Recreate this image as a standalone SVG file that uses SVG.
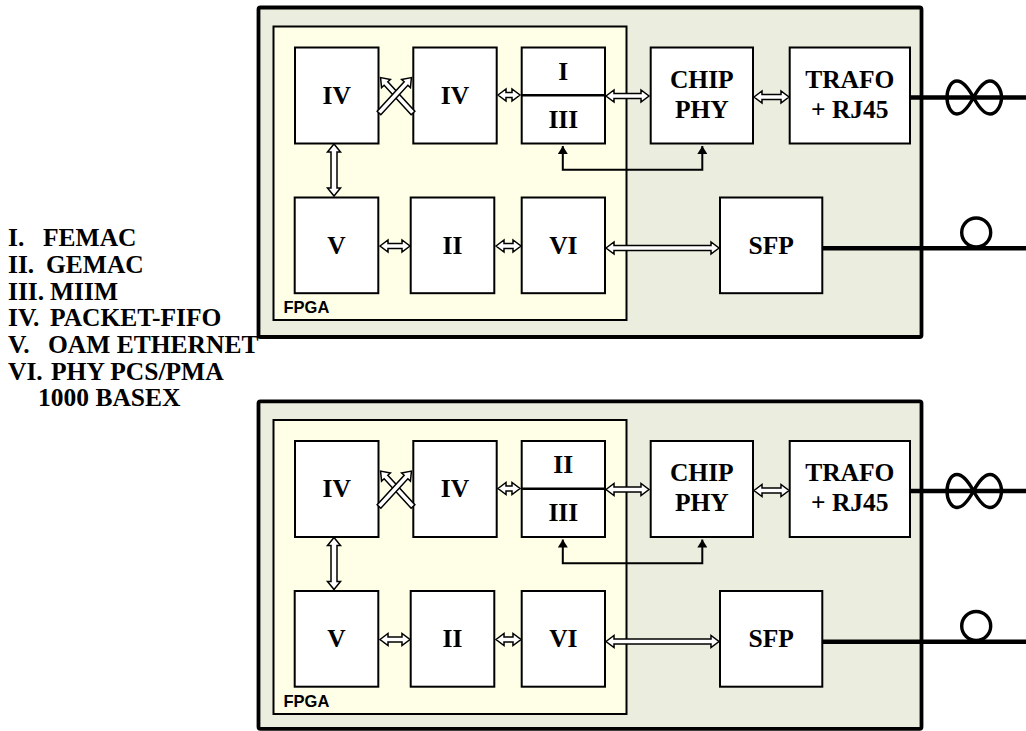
<svg xmlns="http://www.w3.org/2000/svg" width="1026" height="731" viewBox="0 0 1026 731">
<style>
.board{fill:#EBEEDE;stroke:#000;stroke-width:3.8}
.fpga{fill:#FFFFE7;stroke:#000;stroke-width:2}
.blk{fill:#fff;stroke:#000;stroke-width:2}
.div{stroke:#000;stroke-width:2.5}
.lbl{font-family:"Liberation Serif","Times New Roman",serif;font-weight:bold;font-size:25.5px;text-anchor:middle;fill:#000}
.leg{font-family:"Liberation Serif","Times New Roman",serif;font-weight:bold;font-size:25.5px;fill:#000}
.fl{font-family:"Liberation Sans",Arial,sans-serif;font-weight:bold;font-size:16.5px;fill:#000}
.ha{fill:#fff;stroke:#000;stroke-width:1.5;stroke-linejoin:miter}
.fb{fill:none;stroke:#000;stroke-width:2;marker-start:url(#tri);marker-end:url(#tri)}
.cable{stroke:#000;stroke-width:4.5;fill:none}
.sym{stroke:#000;stroke-width:3.4;fill:none}
</style>
<defs>
<marker id="tri" markerUnits="userSpaceOnUse" viewBox="0 0 8 10" refX="8" refY="5" markerWidth="8" markerHeight="10" orient="auto-start-reverse">
<path d="M0,0 L8,5 L0,10 z" fill="#000"/>
</marker>
<polygon id="diag" points="0,-2.5 40,-2.5 40,-6 48,0 40,6 40,2.5 0,2.5"/>
</defs>

<!-- Legend -->
<g id="legend" class="leg">
<text x="8" y="246">I. <tspan x="43">FEMAC</tspan></text>
<text x="8" y="273">II. <tspan x="46">GEMAC</tspan></text>
<text x="8" y="299.5">III. <tspan x="50">MIIM</tspan></text>
<text x="8" y="326">IV. <tspan x="50">PACKET-FIFO</tspan></text>
<text x="8" y="353">V. <tspan x="48">OAM ETHERNET</tspan></text>
<text x="8" y="379.5">VI. <tspan x="51">PHY PCS/PMA</tspan></text>
<text x="38" y="406">1000 BASEX</text>
</g>

<!-- Top board -->
<g id="board1">
<rect class="board" x="258.5" y="7.5" width="663" height="329.5" rx="2"/>
</g>
<g id="fpga1">
<rect class="fpga" x="273.5" y="26.5" width="353" height="293.5"/>
<text class="fl" x="283.5" y="313">FPGA</text>
</g>
<g id="t-iv1"><rect class="blk" x="295" y="47.5" width="83.5" height="96"/><text class="lbl" x="336.7" y="103.5">IV</text></g>
<g id="t-iv2"><rect class="blk" x="413.3" y="47.5" width="83.4" height="96"/><text class="lbl" x="455" y="103.5">IV</text></g>
<g id="t-i-iii"><rect class="blk" x="521.7" y="47.5" width="83.3" height="96"/><line class="div" x1="521.7" y1="95.3" x2="605" y2="95.3"/><text class="lbl" x="563.3" y="79.5">I</text><text class="lbl" x="563.3" y="127.5">III</text></g>
<g id="t-chip"><rect class="blk" x="650.7" y="47.5" width="102.3" height="96"/><text class="lbl" x="701.8" y="87.5">CHIP</text><text class="lbl" x="701.8" y="117.5">PHY</text></g>
<g id="t-trafo"><rect class="blk" x="789.7" y="47.5" width="120.3" height="96"/><text class="lbl" x="849.8" y="87.5">TRAFO</text><text class="lbl" x="849.8" y="117.5">+ RJ45</text></g>
<g id="t-v"><rect class="blk" x="294.7" y="197.5" width="83.6" height="95.7"/><text class="lbl" x="336.5" y="253.5">V</text></g>
<g id="t-ii"><rect class="blk" x="410.7" y="197.5" width="83.6" height="95.7"/><text class="lbl" x="452.5" y="253.5">II</text></g>
<g id="t-vi"><rect class="blk" x="521.7" y="197.5" width="83.3" height="95.7"/><text class="lbl" x="563.3" y="253.5">VI</text></g>
<g id="t-sfp"><rect class="blk" x="720" y="197.5" width="102.3" height="95.7"/><text class="lbl" x="771.2" y="253.5">SFP</text></g>
<g id="t-copper">
<line class="cable" x1="910" y1="97.5" x2="1026" y2="97.5"/>
<path class="sym" d="M973.5,97.5 C967,85.5 962,81 957,81 C951,81 947,89 947,97.5 C947,106 951,114 957,114 C962,114 967,109.5 973.5,97.5 C980,85.5 985,81 990,81 C996,81 1001.5,89 1001.5,97.5 C1001.5,106 996,114 990,114 C985,114 980,109.5 973.5,97.5 Z"/>
</g>
<g id="t-fiber">
<line class="cable" x1="822.3" y1="248.3" x2="1026" y2="248.3"/>
<circle class="sym" cx="976.2" cy="232.5" r="14.5"/>
</g>

<!-- Bottom board -->
<g id="board2">
<rect class="board" x="258.5" y="401.3" width="663" height="327.5" rx="2"/>
</g>
<g id="fpga2">
<rect class="fpga" x="273.5" y="420" width="353" height="294"/>
<text class="fl" x="283.5" y="707">FPGA</text>
</g>
<g transform="translate(0,393.5)">
<g id="b-iv1"><rect class="blk" x="295" y="47.5" width="83.5" height="96"/><text class="lbl" x="336.7" y="103.5">IV</text></g>
<g id="b-iv2"><rect class="blk" x="413.3" y="47.5" width="83.4" height="96"/><text class="lbl" x="455" y="103.5">IV</text></g>
<g id="b-ii-iii"><rect class="blk" x="521.7" y="47.5" width="83.3" height="96"/><line class="div" x1="521.7" y1="95.3" x2="605" y2="95.3"/><text class="lbl" x="563.3" y="79.5">II</text><text class="lbl" x="563.3" y="127.5">III</text></g>
<g id="b-chip"><rect class="blk" x="650.7" y="47.5" width="102.3" height="96"/><text class="lbl" x="701.8" y="87.5">CHIP</text><text class="lbl" x="701.8" y="117.5">PHY</text></g>
<g id="b-trafo"><rect class="blk" x="789.7" y="47.5" width="120.3" height="96"/><text class="lbl" x="849.8" y="87.5">TRAFO</text><text class="lbl" x="849.8" y="117.5">+ RJ45</text></g>
<g id="b-v"><rect class="blk" x="294.7" y="197.5" width="83.6" height="95.7"/><text class="lbl" x="336.5" y="253.5">V</text></g>
<g id="b-ii"><rect class="blk" x="410.7" y="197.5" width="83.6" height="95.7"/><text class="lbl" x="452.5" y="253.5">II</text></g>
<g id="b-vi"><rect class="blk" x="521.7" y="197.5" width="83.3" height="95.7"/><text class="lbl" x="563.3" y="253.5">VI</text></g>
<g id="b-sfp"><rect class="blk" x="720" y="197.5" width="102.3" height="95.7"/><text class="lbl" x="771.2" y="253.5">SFP</text></g>
<g id="b-copper">
<line class="cable" x1="910" y1="97.5" x2="1026" y2="97.5"/>
<path class="sym" d="M973.5,97.5 C967,85.5 962,81 957,81 C951,81 947,89 947,97.5 C947,106 951,114 957,114 C962,114 967,109.5 973.5,97.5 C980,85.5 985,81 990,81 C996,81 1001.5,89 1001.5,97.5 C1001.5,106 996,114 990,114 C985,114 980,109.5 973.5,97.5 Z"/>
</g>
<g id="b-fiber">
<line class="cable" x1="822.3" y1="248.3" x2="1026" y2="248.3"/>
<circle class="sym" cx="976.2" cy="232.5" r="14.5"/>
</g>
</g>

<!-- Connectors -->
<g id="connectors">
<g id="conn-top">
<use href="#diag" class="ha" transform="translate(413,113) rotate(-132.5)"/>
<use href="#diag" class="ha" transform="translate(379,113) rotate(-47.5)"/>
<polygon class="ha" points="498,95 506,89 506,92.5 512,92.5 512,89 520,95 512,101 512,97.5 506,97.5 506,101"/>
<polygon class="ha" points="606,96 614,90 614,93.5 641,93.5 641,90 649,96 641,102 641,98.5 614,98.5 614,102"/>
<polygon class="ha" points="754,97 762,91 762,94.5 781,94.5 781,91 789,97 781,103 781,99.5 762,99.5 762,103"/>
<polygon class="ha" points="334,144 340.5,152 337,152 337,188 340.5,188 334,196 327.5,188 331,188 331,152 327.5,152"/>
<polygon class="ha" points="380,246 388,240 388,243.5 402,243.5 402,240 410,246 402,252 402,248.5 388,248.5 388,252"/>
<polygon class="ha" points="496,246 504,240 504,243.5 513,243.5 513,240 521,246 513,252 513,248.5 504,248.5 504,252"/>
<polygon class="ha" points="606,248 614,242 614,245.5 711,245.5 711,242 719,248 711,254 711,250.5 614,250.5 614,254"/>
<path class="fb" d="M562.8,146 V169.7 H702.3 V146"/>
</g>
<g id="conn-bottom" transform="translate(0,393.5)">
<use href="#diag" class="ha" transform="translate(413,113) rotate(-132.5)"/>
<use href="#diag" class="ha" transform="translate(379,113) rotate(-47.5)"/>
<polygon class="ha" points="498,95 506,89 506,92.5 512,92.5 512,89 520,95 512,101 512,97.5 506,97.5 506,101"/>
<polygon class="ha" points="606,96 614,90 614,93.5 641,93.5 641,90 649,96 641,102 641,98.5 614,98.5 614,102"/>
<polygon class="ha" points="754,97 762,91 762,94.5 781,94.5 781,91 789,97 781,103 781,99.5 762,99.5 762,103"/>
<polygon class="ha" points="334,144 340.5,152 337,152 337,188 340.5,188 334,196 327.5,188 331,188 331,152 327.5,152"/>
<polygon class="ha" points="380,246 388,240 388,243.5 402,243.5 402,240 410,246 402,252 402,248.5 388,248.5 388,252"/>
<polygon class="ha" points="496,246 504,240 504,243.5 513,243.5 513,240 521,246 513,252 513,248.5 504,248.5 504,252"/>
<polygon class="ha" points="606,248 614,242 614,245.5 711,245.5 711,242 719,248 711,254 711,250.5 614,250.5 614,254"/>
<path class="fb" d="M562.8,146 V169.7 H702.3 V146"/>
</g>
</g>
</svg>
